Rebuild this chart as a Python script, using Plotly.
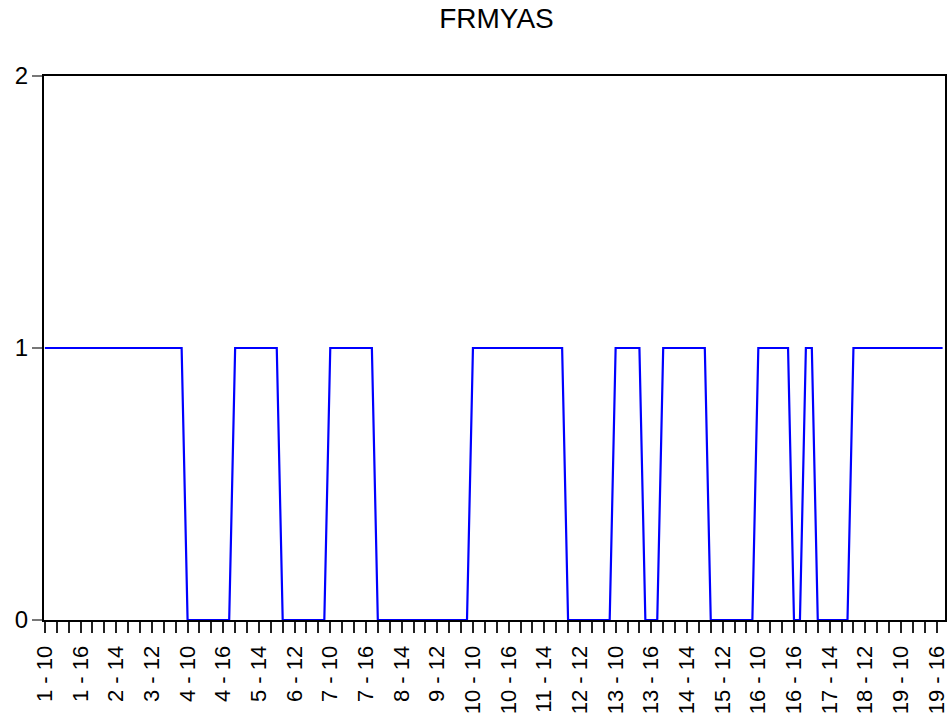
import plotly.graph_objects as go

days = list(range(1, 20))
hours = [10, 11, 12, 13, 14, 15, 16, 17]
categories = [f"{d} - {h}" for d in days for h in hours]

frmyas = [
    1, 1, 1, 1, 1, 1, 1, 1, 1, 1, 1, 1, 1, 1, 1, 1, 1, 1, 1, 1, 1, 1, 1, 1,
    0, 0, 0, 0, 0, 0, 0, 0,
    1, 1, 1, 1, 1, 1, 1, 1,
    0, 0, 0, 0, 0, 0, 0, 0,
    1, 1, 1, 1, 1, 1, 1, 1,
    0, 0, 0, 0, 0, 0, 0, 0, 0, 0, 0, 0, 0, 0, 0, 0,
    1, 1, 1, 1, 1, 1, 1, 1, 1, 1, 1, 1, 1, 1, 1, 1,
    0, 0, 0, 0, 0, 0, 0, 0,
    1, 1, 1, 1, 1,
    0, 0, 0,
    1, 1, 1, 1, 1, 1, 1, 1,
    0, 0, 0, 0, 0, 0, 0, 0,
    1, 1, 1, 1, 1, 1,
    0, 0,
    1, 1,
    0, 0, 0, 0, 0, 0,
    1, 1, 1, 1, 1, 1, 1, 1, 1, 1, 1, 1, 1, 1, 1, 1,
]

y_ticks = [0, 1, 2]

tick_vals = categories[::2]
tick_text = [c if i % 6 == 0 else "" for i, c in enumerate(categories) if i % 2 == 0]

fig = go.Figure()
fig.add_trace(go.Scatter(
    x=categories, y=frmyas, mode="lines",
    line=dict(color="#0000FF", width=2.2),
    showlegend=False,
))

fig.update_layout(
    width=951, height=720,
    paper_bgcolor="white", plot_bgcolor="white",
    margin=dict(l=44, r=2, t=76, b=100),
    font=dict(family="Liberation Sans, Arial, sans-serif", color="black"),
    title=dict(text="FRMYAS", x=(44 + 949) / 2 / 951, xanchor="center",
               y=1 - 18 / 720, yanchor="middle",
               font=dict(size=28, color="black")),
)

fig.update_xaxes(
    type="category",
    range=[-0.15, 151.4],
    tickmode="array", tickvals=tick_vals, ticktext=tick_text,
    tickangle=-90, tickfont=dict(size=22),
    ticks="outside", ticklen=11, tickwidth=1.5, tickcolor="#222222",
    ticklabelstandoff=4,
    showline=True, linecolor="black", linewidth=2, mirror=True,
    showgrid=False, zeroline=False,
)
fig.update_yaxes(
    range=[0, 2],
    tickmode="array", tickvals=y_ticks, ticktext=[str(v) for v in y_ticks],
    tickfont=dict(size=24),
    ticks="outside", ticklen=10, tickwidth=1.5, tickcolor="#777777",
    ticklabelstandoff=-1,
    showline=True, linecolor="black", linewidth=2, mirror=True,
    showgrid=False, zeroline=False,
)

fig.write_html("out.html")
